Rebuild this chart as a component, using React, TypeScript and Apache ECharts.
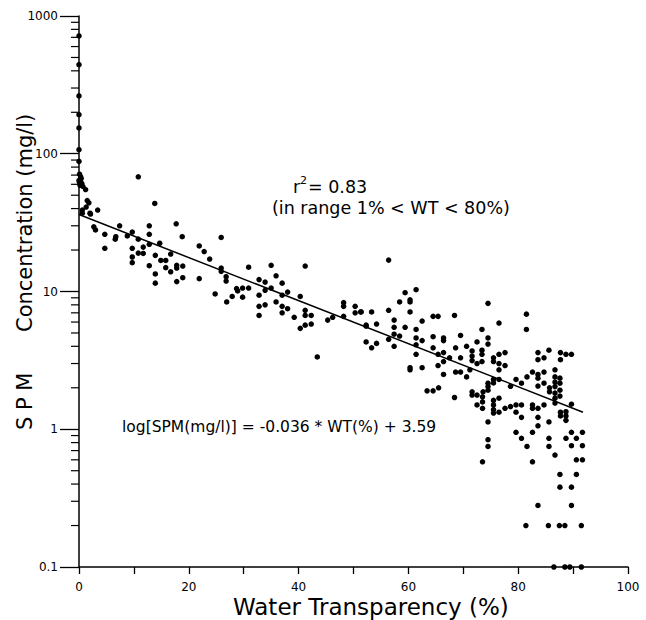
import React, { useEffect, useRef } from "react";
import * as echarts from "echarts";

// Scatter observations: [water transparency %, SPM mg/l]
const spmPoints: number[][] = [
  [0, 716], [0, 443], [0, 263], [0, 192], [0, 154], [0, 107], [0, 88],
  [0.1, 71], [0.3, 68], [0, 64], [0.5, 61], [0.2, 59], [0.7, 58], [1.2, 55], [0.4, 66], [0.1, 62],
  [1.5, 45.7], [1.8, 44], [1.3, 41], [0.6, 39], [2.0, 37], [3.4, 39], [0.6, 37], [2.1, 36.5],
  [2.7, 29.5], [3.0, 28], [4.7, 26], [6.7, 25], [6.6, 24], [7.4, 30], [8.8, 25.3], [9.7, 27],
  [10.8, 24], [12.8, 30], [10.8, 68], [13.8, 43.6], [17.7, 31], [18.8, 25],
  [4.7, 20.6], [9.7, 20.6], [11.7, 21], [12.8, 22], [14.7, 22.4],
  [9.7, 17.8], [9.7, 16.2], [10.8, 19], [11.7, 18.9], [12.8, 26], [12.8, 15.4], [13.9, 18.3],
  [13.9, 13.4], [13.9, 11.5], [14.9, 16.8], [15.8, 16.8], [15.8, 14.9], [16.7, 18.7], [16.7, 13.9],
  [17.8, 15.5], [17.8, 14.8], [17.8, 11.8], [18.9, 15.3], [18.9, 12.6], [21.9, 21.4], [22.8, 19.5],
  [21.9, 12.4], [23.8, 17.2], [24.8, 9.6], [25.9, 24.7], [25.9, 14.8], [25.9, 14], [26.8, 12.8],
  [26.8, 11.9], [26.9, 8.4], [27.9, 9.2], [28.7, 10.5], [28.9, 10.1], [29.8, 10.6], [29.8, 9.1],
  [30.9, 15], [30.9, 10.6], [32.8, 12.2], [32.8, 9.4], [32.8, 7.8], [32.8, 6.7], [33.9, 10.2],
  [33.9, 8], [33.9, 11.7], [35, 15.5], [35, 10.6], [35.9, 13], [35.9, 8.4],
  [41.2, 15.3], [37, 11.5], [38, 9.9], [37, 9.4], [37, 7.8], [38, 7.5], [37, 7], [39.2, 6.5],
  [40.3, 9.2], [41.2, 7.3], [41.2, 6.7], [42.3, 6.7], [40.3, 5.4], [41.2, 5.7], [42.3, 5.8],
  [45.3, 6.2], [46.2, 6.5], [48.2, 6.6], [48.2, 7.8], [48.2, 8.3], [50.3, 7.8], [50.3, 7],
  [51.3, 7.1], [52.3, 5.7], [43.4, 3.35],
  [56.4, 16.9], [51.4, 7.1], [53.3, 7.1], [52.3, 5.6], [54.2, 5.8], [52.3, 4.3], [53.3, 3.9],
  [54.2, 4.2], [56.4, 7.3], [56.4, 4.5], [57.4, 6.2], [57.4, 5.5], [57.4, 4.9], [57.4, 4.0],
  [58.4, 8.4], [58.4, 4.75], [59.4, 9.8], [59.4, 5.5], [60.3, 8.7], [60.3, 8.4], [60.3, 7.1],
  [61.4, 10.3], [60.3, 2.8], [60.3, 2.7], [61.4, 5.3], [61.4, 4.6], [61.4, 4.1], [61.4, 3.5],
  [62.5, 6.1], [62.5, 4.4], [62.5, 2.8], [63.4, 1.9], [64.5, 6.6], [65.4, 6.6], [64.5, 4.7],
  [64.5, 3.9], [64.5, 1.9], [65.4, 3.5], [65.4, 2.9], [65.5, 2.0], [66.4, 4.6], [66.4, 4.4],
  [66.4, 3.6], [66.4, 3.1], [66.4, 2.5], [67.5, 3.3], [68.4, 6.7], [68.4, 1.7], [68.6, 3.9],
  [69.5, 4.8], [69.5, 3.3], [68.6, 2.6], [69.5, 2.6], [70.6, 4.0], [70.6, 2.4], [71.6, 3.7],
  [71.6, 3.4], [71.6, 3.15], [71.6, 1.87], [71.6, 1.77], [72.5, 3.0], [72.5, 1.77], [73.4, 5.3],
  [73.4, 3.75], [73.4, 3.5], [73.4, 3.1], [73.6, 1.87], [74.5, 8.2], [74.5, 4.6], [74.5, 4.15],
  [74.5, 2.16], [74.5, 2.04], [74.5, 1.92], [75.5, 3.3], [75.5, 3.1], [75.5, 2.17], [76.5, 5.9],
  [76.5, 3.5], [76.5, 3.0], [76.5, 2.7], [77.6, 3.6], [77.6, 2.9],
  [81.5, 6.85], [81.5, 5.3], [72.5, 4.3], [83.6, 3.6], [83.6, 3.2], [84.7, 3.3], [85.6, 3.75],
  [87.7, 3.6], [87.7, 3.2], [88.7, 3.5], [89.7, 3.5], [71.2, 2.7], [75.5, 2.3], [76.5, 2.3],
  [79.6, 2.3], [78.6, 2.05], [80.6, 2.16], [81.6, 2.4], [82.6, 2.6], [83.6, 2.5], [83.6, 2.35],
  [84.7, 2.6], [83.6, 2.06], [84.7, 2.16], [85.7, 2.0], [85.7, 1.87], [86.7, 2.7], [86.7, 2.4],
  [86.7, 2.2], [86.7, 2.04], [86.7, 1.83], [86.7, 1.68], [86.7, 1.55], [87.6, 2.35], [87.6, 2.16],
  [87.6, 1.92], [87.6, 1.74], [73.5, 1.72], [73.5, 1.58], [73.5, 1.42], [72.5, 1.5], [75.5, 1.62],
  [75.5, 1.5], [75.5, 1.39], [75.5, 1.31], [76.5, 1.68], [76.5, 1.33], [77.6, 1.42], [78.6, 1.46],
  [79.6, 1.5], [79.6, 1.33], [80.6, 1.5], [80.6, 1.22], [82.6, 1.5], [82.6, 1.42], [83.6, 1.42],
  [83.6, 1.22], [83.6, 1.06], [84.7, 1.5], [85.6, 1.13], [87.7, 1.33], [87.7, 1.25], [88.7, 1.34],
  [88.7, 1.25], [88.7, 1.16], [89.7, 1.52], [74.5, 1.13], [79.6, 0.95], [80.6, 0.86], [82.6, 0.95],
  [85.6, 0.86], [89.7, 0.95], [91.7, 0.95], [88.7, 0.86], [90.6, 0.86],
  [74.5, 0.84], [74.5, 0.75], [73.5, 0.58], [81.6, 0.75], [82.6, 0.58], [85.6, 0.75], [86.7, 0.65],
  [87.6, 0.47], [87.6, 0.38], [89.7, 0.76], [91.7, 0.76], [90.6, 0.6], [91.7, 0.6], [90.6, 0.47],
  [89.7, 0.38], [83.6, 0.28], [89.7, 0.28], [81.4, 0.2], [85.5, 0.2], [87.5, 0.2], [88.5, 0.2],
  [91.5, 0.2], [86.5, 0.1], [88.5, 0.1], [89.4, 0.1], [91.5, 0.1],
];

// Regression line end points: log[SPM] = -0.036 * WT + 3.59
const fitLine: number[][] = [
  [0, 36.2],
  [91.8, 1.33],
];

// Log-axis minor tick values (2..9 per decade)
const yMinorTicks: number[] = [
  0.2, 0.3, 0.4, 0.5, 0.6, 0.7, 0.8, 0.9,
  2, 3, 4, 5, 6, 7, 8, 9,
  20, 30, 40, 50, 60, 70, 80, 90,
  200, 300, 400, 500, 600, 700, 800, 900,
];

const FONT = "'DejaVu Sans', Verdana, sans-serif";

export default function App() {
  const ref = useRef<HTMLDivElement>(null);

  useEffect(() => {
    if (!ref.current) return;
    const chart = echarts.init(ref.current, undefined, { renderer: "svg" });

    const option: any = {
      animation: false,
      backgroundColor: "#ffffff",
      grid: { left: 79, right: 18, top: 16, bottom: 53, containLabel: false },
      xAxis: {
        type: "value",
        min: 0,
        max: 100,
        interval: 20,
        axisLine: { show: true, onZero: false, lineStyle: { color: "#000", width: 1.5 } },
        axisTick: { show: true, inside: false, length: 7, lineStyle: { color: "#000", width: 1.3 } },
        minorTick: { show: true, splitNumber: 2, length: 7, lineStyle: { color: "#000", width: 1.3 } },
        axisLabel: { show: true, color: "#000", fontFamily: FONT, fontSize: 12, margin: 14 },
        splitLine: { show: false },
      },
      yAxis: {
        type: "log",
        logBase: 10,
        min: 0.1,
        max: 1000,
        axisLine: { show: true, onZero: false, lineStyle: { color: "#000", width: 1.5 } },
        axisTick: { show: true, inside: false, length: 19, lineStyle: { color: "#000", width: 1.3 } },
        axisLabel: {
          show: true,
          color: "#000",
          fontFamily: FONT,
          fontSize: 12,
          margin: 21,
          formatter: (v: number) => String(Number(v.toPrecision(3))),
        },
        splitLine: { show: false },
      },
      series: [
        {
          // minor ticks of the log axis, 8px long, left of the axis line
          type: "scatter",
          data: yMinorTicks.map((v) => [0, v]),
          symbol: "rect",
          symbolSize: [8, 1.2],
          symbolOffset: [-4, 0],
          clip: false,
          silent: true,
          itemStyle: { color: "#000", opacity: 1 },
          z: 1,
        },
        {
          type: "line",
          data: fitLine,
          showSymbol: false,
          symbol: "none",
          lineStyle: { color: "#000", width: 1.5 },
          z: 2,
        },
        {
          type: "scatter",
          data: spmPoints,
          symbol: "circle",
          symbolSize: 5.5,
          itemStyle: { color: "#000", opacity: 1 },
          z: 3,
        },
      ],
      graphic: [
        {
          type: "text",
          x: 293,
          y: 187,
          style: { text: "r", fontFamily: FONT, fontSize: 17.5, fill: "#000", align: "left", verticalAlign: "middle" },
        },
        {
          type: "text",
          x: 300,
          y: 180,
          style: { text: "2", fontFamily: FONT, fontSize: 11, fill: "#000", align: "left", verticalAlign: "middle" },
        },
        {
          type: "text",
          x: 308,
          y: 187,
          style: { text: "= 0.83", fontFamily: FONT, fontSize: 17.5, fill: "#000", align: "left", verticalAlign: "middle" },
        },
        {
          type: "text",
          x: 272,
          y: 208,
          style: { text: "(in range 1% < WT < 80%)", fontFamily: FONT, fontSize: 17.5, fill: "#000", align: "left", verticalAlign: "middle" },
        },
        {
          type: "text",
          x: 122,
          y: 427,
          style: { text: "log[SPM(mg/l)] = -0.036 * WT(%) + 3.59", fontFamily: FONT, fontSize: 15.5, fill: "#000", align: "left", verticalAlign: "middle" },
        },
        {
          type: "text",
          x: 233,
          y: 607,
          style: { text: "Water Transparency (%)", fontFamily: FONT, fontSize: 23, fill: "#000", align: "left", verticalAlign: "middle" },
        },
        {
          type: "text",
          x: 25,
          y: 430,
          rotation: Math.PI / 2,
          style: { text: "S P M", fontFamily: FONT, fontSize: 21, fill: "#000", align: "left", verticalAlign: "middle" },
        },
        {
          type: "text",
          x: 25,
          y: 332,
          rotation: Math.PI / 2,
          style: { text: "Concentration (mg/l)", fontFamily: FONT, fontSize: 21, fill: "#000", align: "left", verticalAlign: "middle" },
        },
      ],
    };
    chart.setOption(option);
    return () => chart.dispose();
  }, []);

  return (
    <div
      ref={ref}
      style={{ position: "absolute", left: 0, top: 0, width: 646, height: 620, background: "#fff" }}
    />
  );
}
